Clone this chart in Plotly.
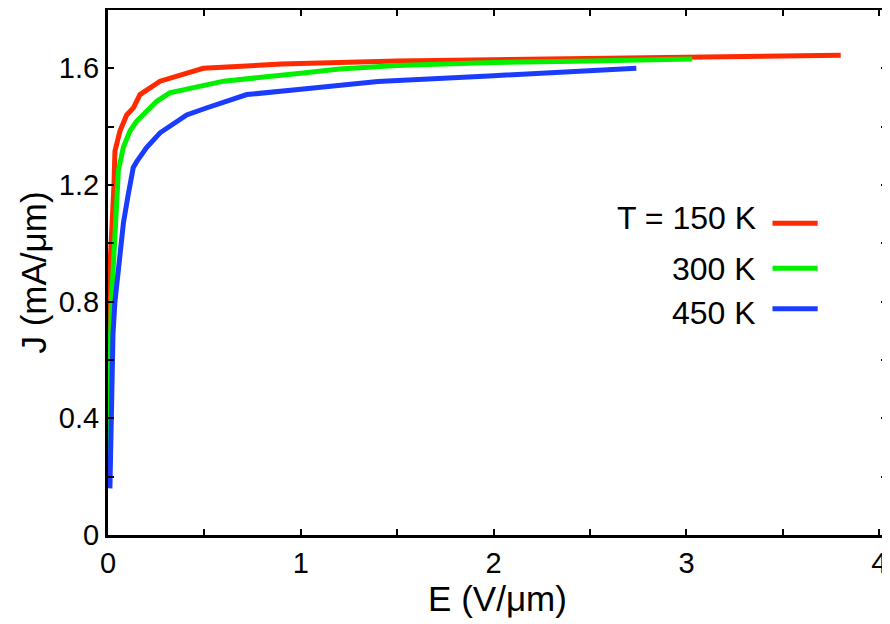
import plotly.graph_objects as go

# ---- data ----
e_150 = [0.0, 0.0, 0.01, 0.019, 0.028, 0.031, 0.036, 0.062, 0.097, 0.131, 0.166, 0.27, 0.494, 0.9, 1.5, 2.2, 3.0, 3.80]
j_150 = [0.40, 0.80, 0.917, 1.03, 1.12, 1.2, 1.316, 1.385, 1.44, 1.464, 1.51, 1.556, 1.60, 1.615, 1.625, 1.632, 1.64, 1.645]

e_300 = [0.0, 0.005, 0.012, 0.019, 0.028, 0.036, 0.045, 0.054, 0.08, 0.114, 0.149, 0.20, 0.253, 0.32, 0.60, 1.0, 1.2, 1.5, 2.0, 2.5, 3.03]
j_300 = [0.18, 0.45, 0.65, 0.815, 0.95, 1.03, 1.19, 1.25, 1.33, 1.385, 1.419, 1.453, 1.487, 1.516, 1.556, 1.583, 1.598, 1.61, 1.62, 1.625, 1.632]

e_450 = [0.01, 0.014, 0.019, 0.026, 0.036, 0.05, 0.062, 0.08, 0.105, 0.123, 0.131, 0.149, 0.20, 0.27, 0.32, 0.408, 0.51, 0.72, 1.0, 1.4, 2.0, 2.74]
j_450 = [0.16, 0.36, 0.587, 0.69, 0.80, 0.90, 0.974, 1.07, 1.168, 1.22, 1.26, 1.28, 1.328, 1.379, 1.40, 1.44, 1.464, 1.51, 1.528, 1.555, 1.575, 1.60]

series_names = ["T = 150 K", "300 K", "450 K"]
series_colors = ["#ff2a00", "#00f000", "#1a3cff"]

x_ticks = [0, 1, 2, 3, 4]
y_ticks = [0, 0.4, 0.8, 1.2, 1.6]

FONT = "Liberation Sans, Arial, Helvetica, sans-serif"

fig = go.Figure()
for ex, jy, name, col in zip([e_150, e_300, e_450], [j_150, j_300, j_450], series_names, series_colors):
    fig.add_trace(go.Scatter(x=ex, y=jy, mode="lines", name=name,
                             line=dict(color=col, width=5), showlegend=False))

axis_common = dict(
    showline=True, linewidth=3, linecolor="black", mirror="ticks",
    ticks="inside", ticklen=6, tickwidth=2, tickcolor="black",
    showgrid=False, zeroline=False, automargin=False,
    tickfont=dict(family=FONT, size=29, color="black"),
)

fig.update_xaxes(range=[0, 4.04], tickvals=x_ticks, ticktext=[str(v) for v in x_ticks],
                 minor=dict(dtick=0.5, ticks="inside", ticklen=6, tickwidth=2, tickcolor="black"),
                 title=dict(text="E (V/μm)", font=dict(family=FONT, size=35, color="black"), standoff=6),
                 **axis_common)
fig.update_yaxes(range=[0, 1.8], tickvals=y_ticks, ticktext=["0", "0.4", "0.8", "1.2", "1.6"],
                 minor=dict(dtick=0.2, ticks="inside", ticklen=6, tickwidth=2, tickcolor="black"),
                 title=dict(text="J (mA/μm)", font=dict(family=FONT, size=35, color="black"), standoff=2),
                 **axis_common)

# legend drawn as text on the left, line sample on the right
leg_text_y = [0.603, 0.506, 0.422]
leg_line_y = [0.594, 0.508, 0.431]
leg_text_x = 0.835
for name, col, ty, ly in zip(series_names, series_colors, leg_text_y, leg_line_y):
    fig.add_annotation(x=leg_text_x, y=ty, xref="paper", yref="paper", text=name,
                       showarrow=False, xanchor="right", yanchor="middle",
                       font=dict(family=FONT, size=32, color="black"))
    fig.add_shape(type="line", xref="paper", yref="paper", x0=0.853, x1=0.911, y0=ly, y1=ly,
                  line=dict(color=col, width=5))

# the page body adds an 8px offset, so the figure is sized to fit inside the window
fig.update_layout(
    width=882, height=616,
    margin=dict(l=100, r=3, t=2, b=89),
    paper_bgcolor="white", plot_bgcolor="white",
    font=dict(family=FONT, color="black"),
)

fig.write_html("out.html")
